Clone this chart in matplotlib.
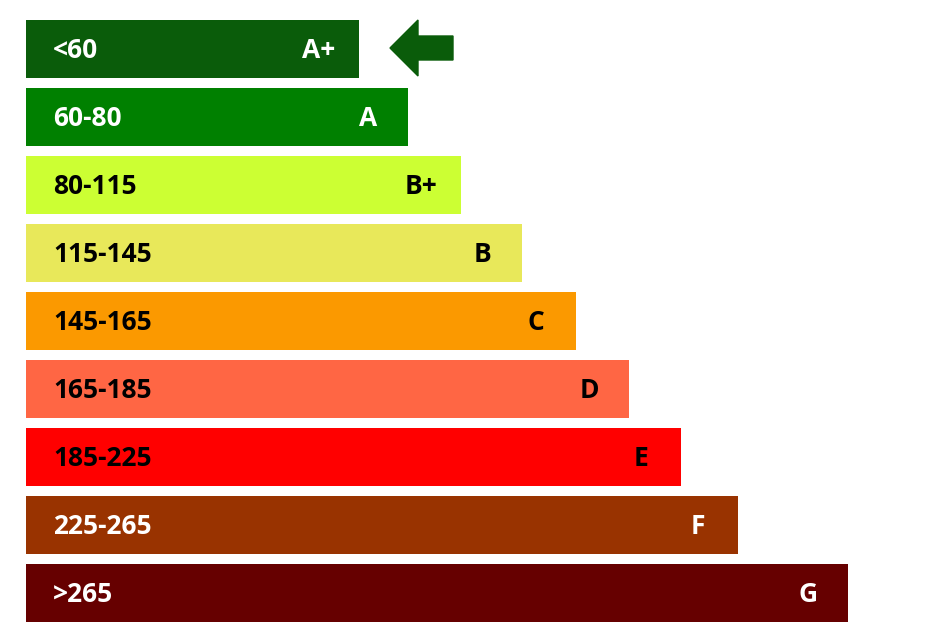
import matplotlib.pyplot as plt
from matplotlib.patches import Polygon

ranges = ["<60", "60-80", "80-115", "115-145", "145-165", "165-185", "185-225", "225-265", ">265"]
grades = ["A+", "A", "B+", "B", "C", "D", "E", "F", "G"]
bar_ends = [359, 408, 461, 522, 576, 629, 681, 738, 848]
colors = ["#0a5c0a", "#008000", "#ccff33", "#e8e85a", "#fb9900",
          "#ff6644", "#ff0000", "#993300", "#660000"]
text_colors = ["white", "white", "black", "black", "black",
               "black", "black", "white", "white"]
current = 0  # arrow points at A+

fig = plt.figure(figsize=(9.42, 6.38), dpi=100)
ax = fig.add_axes([0, 0, 1, 1])
ax.set_xlim(0, 942)
ax.set_ylim(638, 0)
ax.axis("off")

left = 26
height = 58
step = 68
top0 = 20
font = "Open Sans"

for i, (rng, grade, end, col, tcol) in enumerate(zip(ranges, grades, bar_ends, colors, text_colors)):
    top = top0 + i * step
    ax.barh(top + height / 2, end - left, height=height, left=left, color=col)
    ax.text(left + 27, top + height / 2 + 1, rng, color=tcol, fontsize=19,
            fontweight="bold", va="center", ha="left", family=font)
    ax.text(end - 40, top + height / 2 + 1, grade, color=tcol, fontsize=19,
            fontweight="bold", va="center", ha="center", family=font)

# arrow for the current grade
top = top0 + current * step
cy = top + 28
tip = bar_ends[current] + 31
arrow = Polygon([(tip, cy), (tip + 28, cy - 28), (tip + 28, cy - 12),
                 (tip + 63, cy - 12), (tip + 63, cy + 12), (tip + 28, cy + 12),
                 (tip + 28, cy + 28)], closed=True, color=colors[current])
ax.add_patch(arrow)

fig.savefig("out.png", dpi=100)
